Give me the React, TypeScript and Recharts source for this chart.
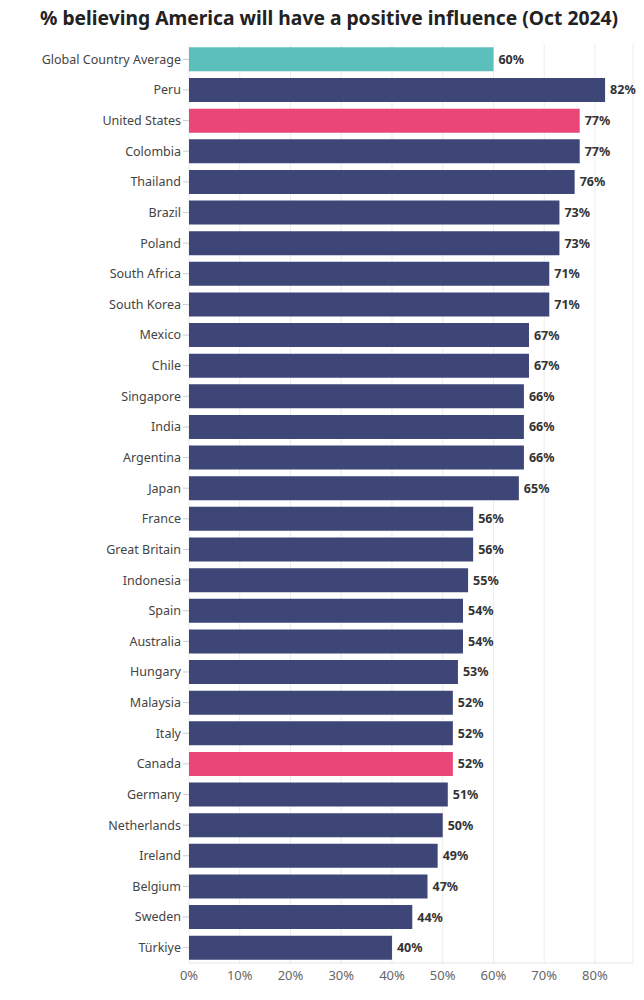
import React from "react";
import { BarChart, Bar, XAxis, YAxis, CartesianGrid, Cell, LabelList } from "recharts";

const countries = [
  "Global Country Average", "Peru", "United States", "Colombia", "Thailand", "Brazil", "Poland",
  "South Africa", "South Korea", "Mexico", "Chile", "Singapore", "India", "Argentina", "Japan",
  "France", "Great Britain", "Indonesia", "Spain", "Australia", "Hungary", "Malaysia", "Italy",
  "Canada", "Germany", "Netherlands", "Ireland", "Belgium", "Sweden", "Türkiye",
];
const values = [
  60, 82, 77, 77, 76, 73, 73, 71, 71, 67, 67, 66, 66, 66, 65, 56, 56, 55, 54, 54, 53, 52, 52, 52,
  51, 50, 49, 47, 44, 40,
];
const kinds = countries.map((c) =>
  c === "Global Country Average" ? "avg" : c === "United States" || c === "Canada" ? "hi" : "base"
);
const xTicks = [0, 10, 20, 30, 40, 50, 60, 70, 80];
const colors: Record<string, string> = { avg: "#5bbfbb", hi: "#ea4677", base: "#3e4577" };

const data = countries.map((c, i) => ({ country: c, value: values[i], kind: kinds[i] }));

const FONT = "'Noto Sans', sans-serif";

export default function App() {
  return (
    <div style={{ position: "absolute", left: 0, top: 0, width: 644, height: 1000, background: "#fff" }}>
      <svg width={644} height={40} style={{ position: "absolute", left: 0, top: 0 }}>
        <text
          x={329}
          y={25}
          textAnchor="middle"
          fontFamily={FONT}
          fontWeight={700}
          fontSize={20}
          fill="#222"
          textLength={578}
          lengthAdjust="spacingAndGlyphs"
        >
          % believing America will have a positive influence (Oct 2024)
        </text>
      </svg>
      <div style={{ position: "absolute", left: 0, top: 0 }}>
        <BarChart
          width={644}
          height={1000}
          data={data}
          layout="vertical"
          margin={{ top: 44, right: 11, bottom: 7, left: 0 }}
          barCategoryGap="11%"
        >
          <CartesianGrid horizontal={false} stroke="#ececec" />
          <XAxis
            type="number"
            domain={[0, 87.5]}
            ticks={xTicks}
            tickFormatter={(v) => `${v}%`}
            axisLine={{ stroke: "#e6e6e6" }}
            tickLine={false}
            tick={{ fontFamily: FONT, fontSize: 13, fill: "#666" }}
            height={30}
            interval={0}
          />
          <YAxis
            type="category"
            dataKey="country"
            width={189}
            axisLine={false}
            tickLine={{ stroke: "#ccc" }}
            tickSize={6}
            tick={{ fontFamily: FONT, fontSize: 12.5, fill: "#444" }}
            interval={0}
          />
          <Bar dataKey="value" isAnimationActive={false}>
            {data.map((d, i) => (
              <Cell key={i} fill={colors[d.kind]} />
            ))}
            <LabelList
              dataKey="value"
              position="right"
              offset={5}
              formatter={(v: any) => `${v}%`}
              style={{ fontFamily: FONT, fontSize: 12.5, fontWeight: 700, fill: "#333" }}
            />
          </Bar>
        </BarChart>
      </div>
    </div>
  );
}
